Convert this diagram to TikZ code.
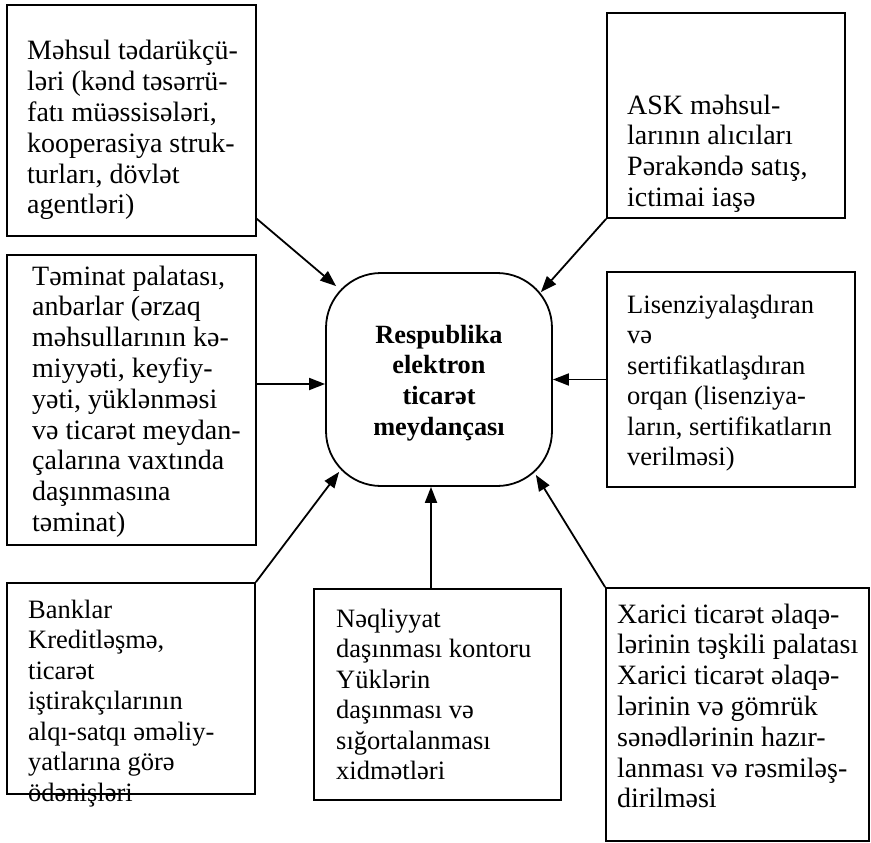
\documentclass[tikz,border=0pt]{standalone}
\usepackage{fontspec}
\setmainfont{Liberation Serif}
\usetikzlibrary{arrows.meta}
\tikzset{
  box/.style={draw=black, line width=1.8pt, rectangle, inner sep=0pt},
  hub/.style={draw=black, line width=1.8pt, rectangle, rounded corners=55pt, inner sep=0pt},
  txt/.style={inner sep=0pt, anchor=base west, font=\fontsize{26.5}{30.5}\selectfont},
  bigtxt/.style={txt, font=\fontsize{28}{30.8}\selectfont},
  hubtxt/.style={inner sep=0pt, anchor=base, font=\fontsize{26.3}{30.7}\selectfont\bfseries},
  arr/.style={line width=1.8pt, -{Triangle[length=16pt,width=12pt]}}
}
\newcommand{\lines}[1]{\begin{tabular}[t]{@{}l@{}}#1\end{tabular}}
\begin{document}
\begin{tikzpicture}[x=1pt,y=-1pt]
\useasboundingbox (0,0) rectangle (871,843);
% boxes
\node[box, minimum width=249, minimum height=231] (b1) at (131.5,120.5) {};
\node[box, minimum width=238, minimum height=205] (b2) at (726,115.5) {};
\node[box, minimum width=249, minimum height=290] (b3) at (131.5,400) {};
\node[box, minimum width=248, minimum height=215] (b4) at (731,379.5) {};
\node[hub, minimum width=226, minimum height=213] (c) at (439,379.5) {};
\node[box, minimum width=248, minimum height=211] (b6) at (131,688.5) {};
\node[box, minimum width=247, minimum height=211] (b7) at (437.5,694.5) {};
\node[box, minimum width=263, minimum height=253] (b8) at (737.5,714.5) {};
% texts
\node[bigtxt] (t1) at (27,60) {\lines{Məhsul tədarükçü-\\ləri (kənd təsərrü-\\fatı müəssisələri,\\kooperasiya struk-\\turları, dövlət\\agentləri)}};
\node[bigtxt] (t2) at (627,114) {\lines{ASK məhsul-\\larının alıcıları\\Pərakəndə satış,\\ictimai iaşə}};
\node[bigtxt] (t3) at (32,285) {\lines{Təminat palatası,\\anbarlar (ərzaq\\məhsullarının kə-\\miyyəti, keyfiy-\\yəti, yüklənməsi\\və ticarət meydan-\\çalarına vaxtında\\daşınmasına\\təminat)}};
\node[txt] (t4) at (627,313) {\lines{Lisenziyalaşdıran\\və\\sertifikatlaşdıran\\orqan (lisenziya-\\ların, sertifikatların\\verilməsi)}};
\node[hubtxt] (tc) at (439,343) {\begin{tabular}[t]{@{}c@{}}Respublika\\elektron\\ticarət\\meydançası\end{tabular}};
\node[txt] (t6) at (28,618) {\lines{Banklar\\Kreditləşmə,\\ticarət\\iştirakçılarının\\alqı-satqı əməliy-\\yatlarına görə\\ödənişləri}};
\node[txt] (t7) at (336,627) {\lines{Nəqliyyat\\daşınması kontoru\\Yüklərin\\daşınması və\\sığortalanması\\xidmətləri}};
\node[bigtxt] (t8) at (617,623) {\lines{Xarici ticarət əlaqə-\\lərinin təşkili palatası\\Xarici ticarət əlaqə-\\lərinin və gömrük\\sənədlərinin hazır-\\lanması və rəsmiləş-\\dirilməsi}};
% connectors
\coordinate (p3) at ([yshift=-4.5pt]c.west);
\coordinate (p6) at ([xshift=-6.5pt]b7.north);
\draw[arr] ([yshift=18pt]b1.south east) -- ([shift={(11,14)}]c.north west);
\draw[arr] (b2.south west) -- ([shift={(-12,20)}]c.north east);
\draw[arr] (b3.east |- p3) -- (p3);
\draw[arr] (b4.west |- c.east) -- (c.east);
\draw[arr] (b6.north east) -- ([shift={(14,-15)}]c.south west);
\draw[arr] (p6) -- (p6 |- c.south);
\draw[arr] (b8.north west) -- ([shift={(-17,-12)}]c.south east);
\end{tikzpicture}
\end{document}
